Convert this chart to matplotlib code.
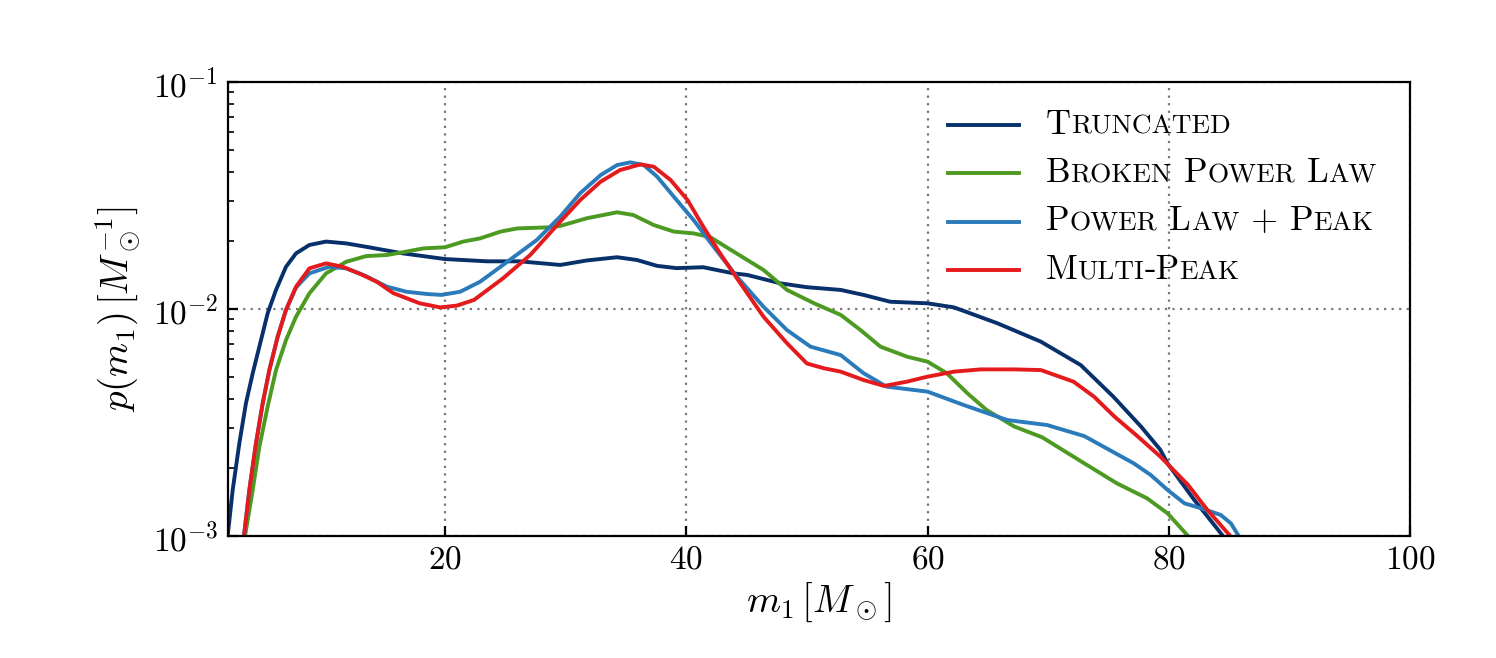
import numpy as np
import matplotlib
matplotlib.use("Agg")
import matplotlib.pyplot as plt
from matplotlib.ticker import NullFormatter, LogLocator
from matplotlib.offsetbox import TextArea, HPacker, VPacker, DrawingArea, AnchoredOffsetbox
from matplotlib.lines import Line2D

plt.rcParams["font.family"] = "serif"
plt.rcParams["font.serif"] = ["cmr10"]
plt.rcParams["mathtext.fontset"] = "cm"
plt.rcParams["axes.formatter.use_mathtext"] = True

# primary mass m1 [Msun] and log10 p(m1)
trunc_m = [2.0, 2.39, 2.94, 3.49, 4.05, 4.6, 5.29, 5.98, 6.81, 7.64, 8.75, 10.13, 11.8,
           13.45, 16.5, 20.0, 23.5, 26.2, 29.55, 31.77, 34.26, 35.9, 37.58, 39.2, 41.4,
           43.9, 45.05, 47.8, 50.0, 52.8, 54.7, 56.9, 60.0, 62.2, 65.8, 69.4, 72.7,
           75.4, 77.7, 79.3, 79.9, 82.1, 84.5, 85.5]
trunc_logp = [-2.987, -2.797, -2.592, -2.415, -2.283, -2.166, -2.019, -1.916, -1.814,
              -1.755, -1.718, -1.703, -1.711, -1.726, -1.755, -1.78, -1.79, -1.79, -1.806,
              -1.786, -1.772, -1.784, -1.81, -1.82, -1.816, -1.843, -1.85, -1.887, -1.904,
              -1.916, -1.938, -1.968, -1.975, -1.993, -2.063, -2.144, -2.247, -2.386,
              -2.518, -2.62, -2.68, -2.84, -3.0, -3.1]

bpl_m = [3.45, 4.05, 4.6, 5.29, 5.98, 6.81, 7.64, 8.75, 10.13, 11.8, 13.45, 15.2, 16.8,
         18.2, 20.0, 21.5, 22.9, 24.6, 26.0, 28.7, 29.55, 31.77, 34.26, 35.6, 37.3,
         38.96, 40.6, 42.0, 43.7, 46.4, 48.35, 50.6, 52.8, 54.45, 56.1, 58.3, 60.0,
         61.6, 63.3, 64.9, 67.2, 69.5, 73.0, 75.7, 78.2, 79.9, 81.6, 82.5]
bpl_logp = [-2.988, -2.797, -2.607, -2.43, -2.269, -2.137, -2.034, -1.931, -1.843,
            -1.792, -1.767, -1.762, -1.747, -1.733, -1.728, -1.703, -1.689, -1.659,
            -1.645, -1.64, -1.634, -1.60, -1.574, -1.586, -1.63, -1.659, -1.667, -1.684,
            -1.74, -1.828, -1.916, -1.975, -2.026, -2.093, -2.166, -2.21, -2.232, -2.283,
            -2.371, -2.445, -2.518, -2.565, -2.68, -2.768, -2.834, -2.90, -3.0, -3.08]

plp_m = [3.35, 3.77, 4.32, 4.88, 5.43, 6.12, 6.81, 7.64, 8.75, 10.4, 11.8, 13.45, 14.06,
         15.2, 16.8, 18.5, 19.7, 21.25, 22.9, 24.8, 27.6, 29.55, 31.2, 32.9, 34.26,
         35.36, 36.47, 37.58, 38.96, 40.6, 42.27, 44.2, 46.4, 48.35, 50.3, 52.8, 54.7,
         56.6, 60.0, 63.0, 66.6, 69.9, 73.0, 77.1, 78.5, 79.9, 81.3, 82.7, 84.3, 85.15,
         85.8, 86.5]
plp_logp = [-2.988, -2.797, -2.592, -2.415, -2.269, -2.122, -2.004, -1.905, -1.843,
            -1.814, -1.821, -1.855, -1.872, -1.902, -1.924, -1.934, -1.938, -1.924, -1.88,
            -1.806, -1.696, -1.593, -1.49, -1.41, -1.366, -1.354, -1.366, -1.417, -1.505,
            -1.608, -1.726, -1.858, -1.99, -2.093, -2.166, -2.203, -2.283, -2.342, -2.364,
            -2.423, -2.489, -2.511, -2.56, -2.68, -2.731, -2.797, -2.856, -2.878, -2.907,
            -2.944, -3.0, -3.06]

mp_m = [3.35, 3.77, 4.32, 4.88, 5.43, 6.12, 6.81, 7.64, 8.75, 10.13, 11.5, 12.95,
        14.34, 15.7, 17.9, 19.6, 20.98, 22.4, 24.8, 27.06, 29.55, 31.2, 32.9, 34.5,
        36.2, 37.3, 38.7, 40.1, 41.4, 42.8, 44.2, 46.4, 48.35, 50.0, 51.4, 52.8, 54.7,
        56.4, 58.3, 60.0, 62.2, 64.4, 67.2, 69.4, 72.1, 73.8, 75.5, 77.4, 79.3, 81.6,
        83.2, 85.1, 86.0]
mp_logp = [-2.988, -2.797, -2.592, -2.415, -2.269, -2.122, -2.004, -1.902, -1.821,
           -1.799, -1.814, -1.845, -1.88, -1.93, -1.975, -1.993, -1.985, -1.96, -1.865,
           -1.762, -1.615, -1.52, -1.439, -1.388, -1.363, -1.373, -1.432, -1.52, -1.637,
           -1.755, -1.865, -2.034, -2.151, -2.24, -2.261, -2.276, -2.313, -2.339, -2.32,
           -2.298, -2.276, -2.266, -2.266, -2.269, -2.32, -2.386, -2.474, -2.56, -2.65,
           -2.775, -2.885, -3.0, -3.06]

labels = ["Truncated", "Broken Power Law", "Power Law + Peak", "Multi-Peak"]
colors = ["#08306b", "#4d9a23", "#2b7bba", "#e41a1c"]
series = [(trunc_m, trunc_logp), (bpl_m, bpl_logp), (plp_m, plp_logp), (mp_m, mp_logp)]


def small_caps(text, big=12.5, small=9.8):
    """Fake small caps out of two sizes of cmr10 capitals."""
    words = []
    for word in text.split(" "):
        runs, cur, cur_small = [], "", None
        for ch in word:
            is_small = ch.islower()
            if cur and is_small != cur_small:
                runs.append((cur, cur_small))
                cur = ""
            cur += ch.upper()
            cur_small = is_small
        runs.append((cur, cur_small))
        parts = [TextArea(s, textprops=dict(fontsize=small if sm else big))
                 for s, sm in runs]
        words.append(HPacker(children=parts, sep=0, pad=0, align="baseline"))
    return HPacker(children=words, sep=4.3, pad=0, align="baseline")


fig = plt.figure(figsize=(7.48, 3.29), dpi=200)
ax = fig.add_axes([0.1524, 0.1854, 0.7901, 0.6900])

for (m, lp), c in zip(series, colors):
    ax.plot(m, 10 ** np.array(lp), color=c, lw=1.4, solid_joinstyle="round")

ax.set_yscale("log")
ax.set_xlim(2, 100)
ax.set_ylim(1e-3, 1e-1)
ax.set_xticks([20, 40, 60, 80, 100])
ax.yaxis.set_minor_locator(LogLocator(base=10, subs=np.arange(2, 10)))
ax.yaxis.set_minor_formatter(NullFormatter())
ax.tick_params(which="both", direction="in", top=False, right=False, labelsize=12)
ax.tick_params(which="major", length=3.5, width=0.8)
ax.tick_params(which="minor", length=2, width=0.6)
ax.tick_params(axis="x", which="minor", bottom=False)
ax.grid(True, which="major", color="#777777", lw=0.8, linestyle=(0, (1, 2.4)))
for sp in ax.spines.values():
    sp.set_linewidth(0.8)

ax.set_xlabel(r"$m_1\,[M_\odot]$", fontsize=14, labelpad=2)
ax.set_ylabel(r"$p(m_1)\,[M_\odot^{-1}]$", fontsize=14, labelpad=4)

rows = []
for lab, c in zip(labels, colors):
    da = DrawingArea(25.5, 8, 0, 0)
    da.add_artist(Line2D([0, 25.5], [4, 4], color=c, lw=1.4))
    rows.append(HPacker(children=[da, small_caps(lab)], sep=9.7, pad=0, align="center"))
leg = AnchoredOffsetbox(loc="upper left", child=VPacker(children=rows, sep=6.0, pad=0, align="left"),
                        bbox_to_anchor=(0.609, 0.94), bbox_transform=ax.transAxes,
                        frameon=False, pad=0, borderpad=0)
ax.add_artist(leg)

fig.savefig("out.png", dpi=200)
